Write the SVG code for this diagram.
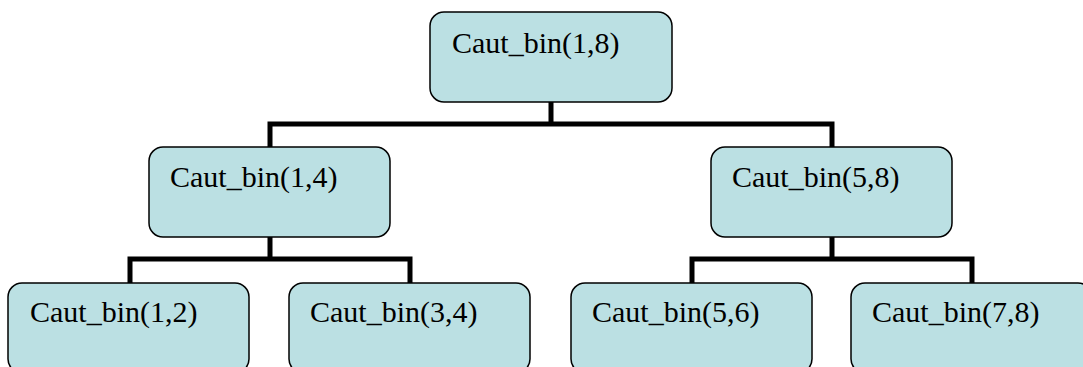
<svg xmlns="http://www.w3.org/2000/svg" width="1083" height="367" viewBox="0 0 1083 367">
<style>
.box{fill:#BBE0E3;stroke:#000;stroke-width:1.5}
.lbl{font-size:30px;fill:#000}
.con{fill:none;stroke:#000;stroke-width:5;stroke-linejoin:miter;stroke-linecap:square}
</style>
<rect width="1083" height="367" fill="#fff"/>
<g id="connectors">
<path class="con" d="M551,102 V124 M270,146 V124 H832 V146"/>
<path class="con" d="M270,237 V259 M130,282 V259 H410 V282"/>
<path class="con" d="M832,237 V259 M692,282 V259 H972 V282"/>
</g>
<g font-family="Liberation Serif, DejaVu Serif, serif">
<g id="n18"><rect class="box" x="430" y="12" width="242" height="90" rx="14"/><text class="lbl" x="452" y="53">Caut_bin(1,8)</text></g>
<g id="n14"><rect class="box" x="149" y="147" width="241" height="90" rx="14"/><text class="lbl" x="170" y="187">Caut_bin(1,4)</text></g>
<g id="n58"><rect class="box" x="711" y="147" width="241" height="90" rx="14"/><text class="lbl" x="732" y="187">Caut_bin(5,8)</text></g>
<g id="n12"><rect class="box" x="8" y="283" width="241" height="90" rx="14"/><text class="lbl" x="30" y="322">Caut_bin(1,2)</text></g>
<g id="n34"><rect class="box" x="289" y="283" width="241" height="90" rx="14"/><text class="lbl" x="310" y="322">Caut_bin(3,4)</text></g>
<g id="n56"><rect class="box" x="571" y="283" width="241" height="90" rx="14"/><text class="lbl" x="592" y="322">Caut_bin(5,6)</text></g>
<g id="n78"><rect class="box" x="851" y="283" width="241" height="90" rx="14"/><text class="lbl" x="872" y="322">Caut_bin(7,8)</text></g>
</g>
</svg>
